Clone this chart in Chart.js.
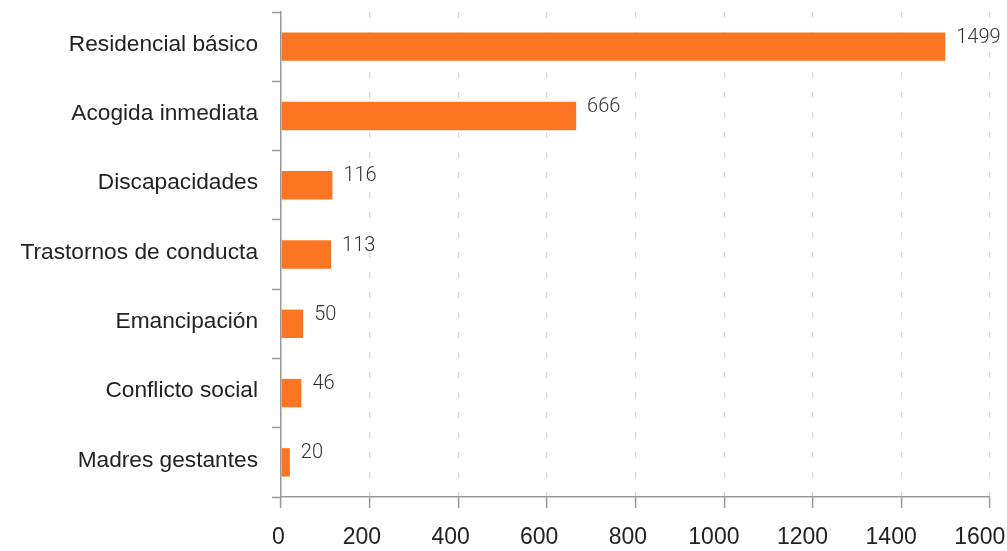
<!DOCTYPE html>
<html>
<head>
<meta charset="utf-8">
<script src="https://cdn.jsdelivr.net/npm/chart.js@4/dist/chart.umd.min.js"></script>
<style>
  html, body { margin: 0; padding: 0; background: #fff; }
  #wrap { width: 1007px; height: 551px; }
</style>
</head>
<body>
<div id="wrap"><canvas id="chart"></canvas></div>
<script>
const categories = ['Residencial básico', 'Acogida inmediata', 'Discapacidades', 'Trastornos de conducta', 'Emancipación', 'Conflicto social', 'Madres gestantes'];
const values = [1499, 666, 116, 113, 50, 46, 20];
const xTicks = [0, 200, 400, 600, 800, 1000, 1200, 1400, 1600];

// numbers written right of each bar end, a bit above center
const valueLabels = {
    id: 'valueLabels',
    afterDatasetsDraw(chart) {
        const ctx = chart.ctx;
        const meta = chart.getDatasetMeta(0);
        ctx.save();
        ctx.font = '300 20px Roboto';
        ctx.fillStyle = '#333';
        ctx.textAlign = 'left';
        ctx.textBaseline = 'middle';
        meta.data.forEach((bar, i) => {
            ctx.fillText(String(values[i]), bar.x + 11, bar.y - 9);
        });
        ctx.restore();
    }
};

// x tick labels sit a little left of their tick, so the last one stays inside
const xLabels = {
    id: 'xLabels',
    afterDraw(chart) {
        const ctx = chart.ctx;
        const scale = chart.scales.x;
        ctx.save();
        ctx.font = '23px "Liberation Sans"';
        ctx.fillStyle = '#222';
        ctx.textAlign = 'center';
        ctx.textBaseline = 'middle';
        xTicks.forEach(v => {
            const txt = String(v);
            const w = ctx.measureText(txt).width;
            ctx.fillText(txt, scale.getPixelForValue(v) - w * 0.2, scale.top + 41);
        });
        ctx.restore();
    }
};

new Chart(document.getElementById('chart'), {
    type: 'bar',
    data: {
        labels: categories,
        datasets: [{
            data: values,
            backgroundColor: '#fc7523',
            categoryPercentage: 1,
            barPercentage: 0.41
        }]
    },
    options: {
        indexAxis: 'y',
        responsive: true,
        maintainAspectRatio: false,
        animation: false,
        layout: { padding: { top: 12, right: 17 } },
        plugins: {
            legend: { display: false },
            tooltip: { enabled: false }
        },
        scales: {
            x: {
                min: 0,
                max: 1600,
                afterBuildTicks: axis => { axis.ticks = xTicks.map(v => ({ value: v })); },
                afterFit: axis => {
                    axis.height = 54;
                    axis.paddingLeft = 0;
                    axis.paddingRight = 0;
                },
                border: { color: '#999', width: 1.5, dash: [6, 14] },
                grid: {
                    color: '#d8d8d8',
                    lineWidth: 1.2,
                    tickColor: '#999',
                    tickBorderDash: [],
                    tickLength: 11,
                    tickWidth: 1.5
                },
                ticks: { display: false }
            },
            y: {
                afterFit: axis => {
                    axis.width = 281;
                    axis.paddingTop = 0;
                    axis.paddingBottom = 0;
                },
                border: { color: '#999', width: 1.5 },
                grid: {
                    offset: true,
                    drawOnChartArea: false,
                    tickColor: '#999',
                    tickLength: 9,
                    tickWidth: 1.5
                },
                ticks: {
                    color: '#222',
                    font: { family: 'Liberation Sans', size: 22.7 },
                    padding: 14,
                    labelOffset: -2
                }
            }
        }
    },
    plugins: [valueLabels, xLabels]
});
</script>
</body>
</html>
